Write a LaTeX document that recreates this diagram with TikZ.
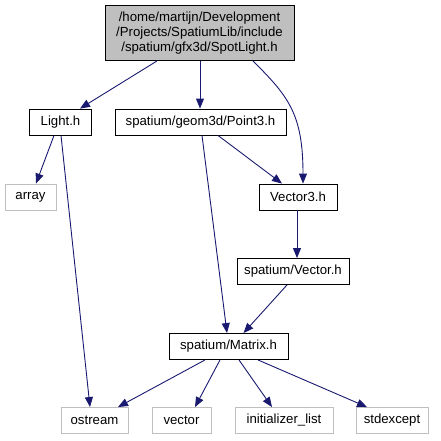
\documentclass[tikz,border=0pt]{standalone}
\usepackage{fontspec}
\setmainfont{Liberation Sans}
\usetikzlibrary{arrows.meta}
\definecolor{EdgeBlue}{HTML}{191970}
\definecolor{RootFill}{HTML}{BFBFBF}
\definecolor{SysGray}{HTML}{BFBFBF}
\definecolor{BoxInk}{HTML}{000000}
\tikzset{
  header/.style={
    draw=BoxInk, line width=0.9pt, fill=white, inner sep=0pt,
    minimum height=26pt, font=\fontsize{13.2}{15}\selectfont, align=center
  },
  sysheader/.style={header, draw=SysGray},
  roothdr/.style={header, fill=RootFill, minimum height=55pt},
  incl/.style={-{Triangle[length=10pt,width=8pt]}, line width=0.9pt, draw=EdgeBlue}
}
\begin{document}
\begin{tikzpicture}[x=1pt,y=-1pt]
    \useasboundingbox (0,0) rectangle (441,440);
    \node[roothdr,minimum width=189pt] (spot) at (199.5,33)
      {/home/martijn/Development\\/Projects/SpatiumLib/include\\/spatium/gfx3d/SpotLight.h};
    \node[header,minimum width=62pt] (light) at (60.5,122) {Light.h};
    \node[header,minimum width=171pt] (point) at (200.5,122) {spatium/geom3d/Point3.h};
    \node[header,minimum width=78pt] (vecthree) at (298,197) {Vector3.h};
    \node[sysheader,minimum width=51pt] (array) at (30.5,197) {array};
    \node[header,minimum width=112pt] (vector) at (293,271.5) {spatium/Vector.h};
    \node[header,minimum width=119pt] (matrix) at (228.5,346.5) {spatium/Matrix.h};
    \node[sysheader,minimum width=67pt] (ostream) at (94.5,420.5) {ostream};
    \node[sysheader,minimum width=59pt] (stdvec) at (181.5,420.5) {vector};
    \node[sysheader,minimum width=98pt] (initlist) at (284,420.5) {initializer\_list};
    \node[sysheader,minimum width=72pt] (stdexc) at (392,420.5) {stdexcept};
    % includes of SpotLight.h
    \draw[incl] ([xshift=-42.5pt]spot.south) -- ([xshift=19.5pt]light.north);
    \draw[incl] ([xshift=0.5pt]spot.south) -- ([xshift=-0.5pt]point.north);
    \draw[incl] ([xshift=53.5pt]spot.south) .. controls +(35,35) and +(0,-70) .. ([xshift=5pt]vecthree.north);
    % Light.h
    \draw[incl] ([xshift=-6.5pt]light.south) -- ([xshift=5.5pt]array.north);
    \draw[incl] ([xshift=0.5pt]light.south) -- ([xshift=-4.5pt]ostream.north);
    % Point3.h and Vector3.h
    \draw[incl] ([xshift=17.5pt]point.south) -- ([xshift=-16pt]vecthree.north);
    \draw[incl] ([xshift=1.5pt]point.south) -- ([xshift=-1.5pt]matrix.north);
    \draw[incl] ([xshift=-1pt]vecthree.south) -- ([xshift=4pt]vector.north);
    \draw[incl] ([xshift=-6pt]vector.south) -- ([xshift=15pt]matrix.north);
    % Matrix.h
    \draw[incl] ([xshift=-23.5pt]matrix.south) -- ([xshift=23.5pt]ostream.north);
    \draw[incl] ([xshift=-8.5pt]matrix.south) -- ([xshift=13.5pt]stdvec.north);
    \draw[incl] ([xshift=10.5pt]matrix.south) -- ([xshift=-12pt]initlist.north);
    \draw[incl] ([xshift=29.5pt]matrix.south) -- ([xshift=-25pt]stdexc.north);
\end{tikzpicture}
\end{document}
